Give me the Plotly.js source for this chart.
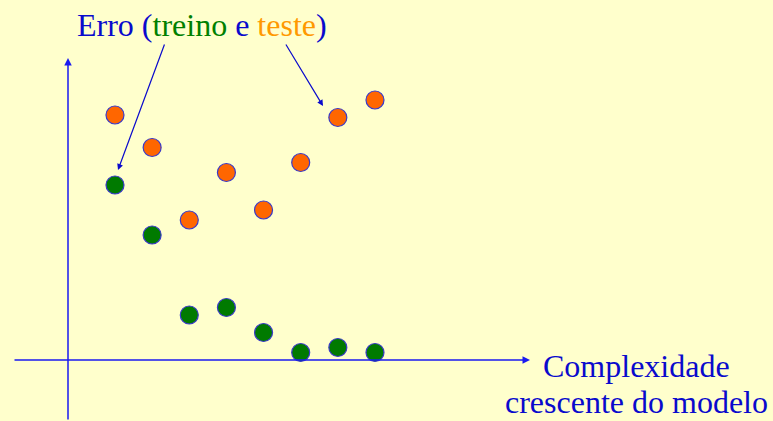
<!DOCTYPE html>
<html><head><meta charset="utf-8">
<script src="https://cdn.plot.ly/plotly-3.0.1.min.js"></script>
<style>html,body{margin:0;padding:0;background:#FFFFCC;}#chart{width:773px;height:421px;}</style>
</head><body><div id="chart"></div>
<script>
// Model complexity steps (increasing)
const complexity = [1, 2, 3, 4, 5, 6, 7, 8];
// Training error (green)
const trainError = [7.0, 5.0, 1.8, 2.1, 1.1, 0.3, 0.5, 0.3];
// Test error (orange)
const testError = [9.8, 8.5, 5.6, 7.5, 6.0, 7.9, 9.7, 10.4];
// Axis label lines
const xLabelLines = ['Complexidade', 'crescente do modelo'];

const W = 773, H = 421;
const px = v => v / W;          // pixel -> paper x
const py = v => 1 - v / H;      // pixel -> paper y
const axisBlue = '#1A1AF0';
const textBlue = '#0A0ACC';
const font = 'Liberation Serif';

const markerLine = {color: '#3A3AC8', width: 1.2};
const traces = [
  {x: complexity, y: testError, mode: 'markers', type: 'scatter', name: 'teste',
   marker: {size: 18, color: '#FF6600', line: markerLine}},
  {x: complexity, y: trainError, mode: 'markers', type: 'scatter', name: 'treino',
   marker: {size: 18, color: '#007A00', line: markerLine}}
];

const layout = {
  width: W, height: H,
  margin: {l: 0, r: 0, t: 0, b: 0},
  paper_bgcolor: '#FFFFCC', plot_bgcolor: '#FFFFCC',
  showlegend: false,
  font: {family: font},
  xaxis: {range: [-2.096, 18.716], visible: false, showgrid: false, zeroline: false},
  yaxis: {range: [-2.44, 14.4], visible: false, showgrid: false, zeroline: false},
  annotations: [
    {xref: 'paper', yref: 'paper', x: px(530), y: py(360), ax: -517, ay: 0, text: '',
     showarrow: true, arrowhead: 2, arrowsize: 1, arrowwidth: 1.5, arrowcolor: axisBlue, standoff: 0},
    {xref: 'paper', yref: 'paper', x: px(68), y: py(58), ax: 0, ay: 370, text: '',
     showarrow: true, arrowhead: 2, arrowsize: 1, arrowwidth: 1.5, arrowcolor: axisBlue, standoff: 0},
    {xref: 'paper', yref: 'paper', x: px(118), y: py(170), ax: 47, ay: -127, text: '',
     showarrow: true, arrowhead: 2, arrowsize: 1, arrowwidth: 1.2, arrowcolor: textBlue, standoff: 0},
    {xref: 'paper', yref: 'paper', x: px(323), y: py(106), ax: -38, ay: -63, text: '',
     showarrow: true, arrowhead: 2, arrowsize: 1, arrowwidth: 1.2, arrowcolor: textBlue, standoff: 0},
    {xref: 'paper', yref: 'paper', x: px(202), y: py(25), xanchor: 'center', yanchor: 'middle',
     showarrow: false,
     text: 'Erro (<span style="color:#008000">treino</span> e <span style="color:#FF9900">teste</span>)',
     font: {family: font, size: 32, color: textBlue}},
    {xref: 'paper', yref: 'paper', x: px(636), y: py(366), xanchor: 'center', yanchor: 'middle',
     showarrow: false, text: xLabelLines[0], borderpad: 0,
     font: {family: font, size: 32, color: textBlue}},
    {xref: 'paper', yref: 'paper', x: px(636), y: 0, xanchor: 'center', yanchor: 'bottom',
     showarrow: false, text: xLabelLines[1], borderpad: 0,
     font: {family: font, size: 32, color: textBlue}}
  ]
};

Plotly.newPlot('chart', traces, layout, {staticPlot: true, displayModeBar: false});
</script></body></html>
